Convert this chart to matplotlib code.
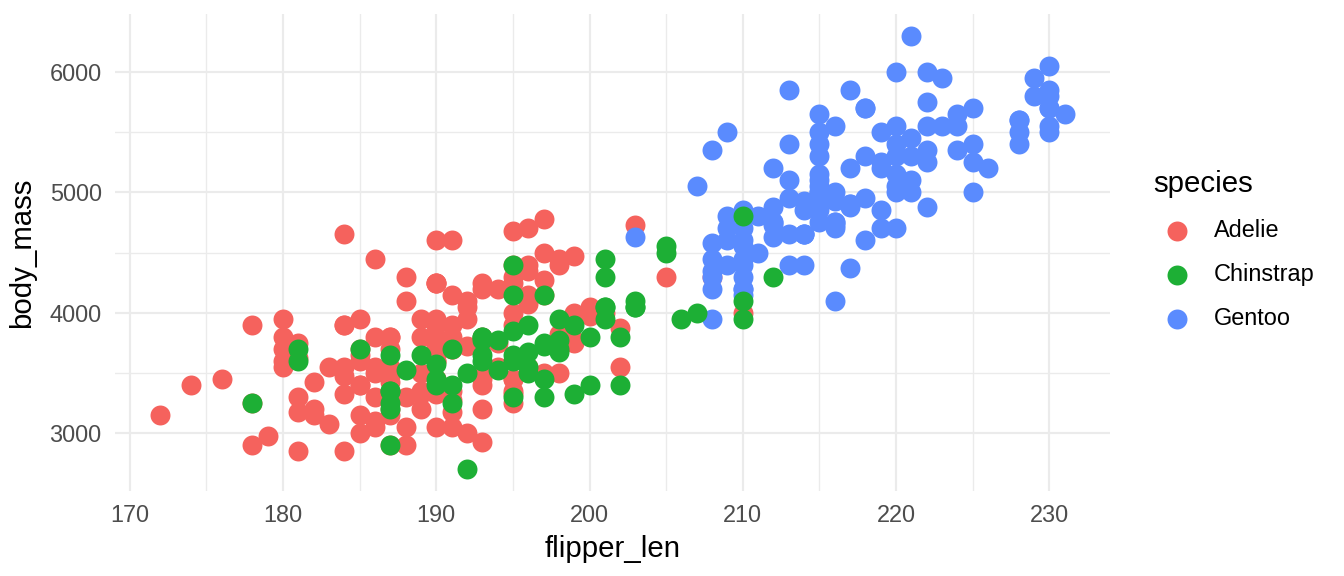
import matplotlib
matplotlib.use("Agg")
import matplotlib.pyplot as plt
from matplotlib.ticker import MultipleLocator

plt.rcParams['font.family'] = ['Liberation Sans', 'DejaVu Sans']

# flipper length (mm) and body mass (g), per species, in data order
adelie_flipper = [181, 186, 195, 193, 190, 181, 195, 193, 190, 186, 180, 182, 191, 198, 185, 195, 197, 184, 194,
                  174, 180, 189, 185, 180, 187, 183, 187, 172, 180,
                  178, 178, 188, 184, 195, 196, 190, 180, 181, 184, 182, 195, 186, 196, 185, 190, 182, 179, 190, 191,
                  186, 188, 190, 200, 187, 191, 186, 193, 181, 194, 185, 195, 185, 192, 184, 192, 195, 188,
                  190, 198, 190, 190, 196, 197, 190, 195, 191, 184, 187, 195, 189, 196, 187, 193,
                  191, 194, 190, 189, 189, 190, 202, 205, 185, 186, 187, 208, 190, 196, 178, 192,
                  192, 203, 183, 190, 193, 184, 199, 190, 181, 197, 198, 191, 193, 197, 191, 196,
                  188, 199, 189, 189, 187, 198, 176, 202, 186, 199, 191, 195, 191, 210, 190, 197,
                  193, 199, 187, 190, 191, 200, 185, 193, 193, 187, 188, 190, 192, 185, 190, 184, 195, 193, 187, 201]
adelie_mass = [3750, 3800, 3250, 3450, 3650, 3625, 4675, 3475, 4250, 3300, 3700, 3200, 3800, 4400, 3700, 3450, 4500, 3325, 4200,
               3400, 3600, 3800, 3950, 3800, 3800, 3550, 3200, 3150, 3950,
               3250, 3900, 3300, 3900, 3325, 4150, 3950, 3550, 3300, 4650, 3150, 3900, 3100, 4400, 3000, 4600, 3425, 2975, 3450, 4150,
               3500, 4300, 3450, 4050, 2900, 3700, 3550, 3800, 2850, 3750, 3150, 4400, 3600, 4050, 2850, 3950, 3350, 4100,
               3050, 4450, 3600, 3900, 3550, 4150, 3700, 4250, 3700, 3900, 3550, 4000, 3200, 4700, 3800, 4200,
               3350, 3550, 3800, 3500, 3950, 3600, 3550, 4300, 3400, 4450, 3300, 4300, 3700, 4350, 2900, 4100,
               3725, 4725, 3075, 4250, 2925, 3550, 3750, 3900, 3175, 4775, 3825, 4600, 3200, 4275, 3900, 4075,
               2900, 3775, 3350, 3325, 3150, 3500, 3450, 3875, 3050, 4000, 3275, 4300, 3050, 4000, 3325, 3500,
               3500, 4475, 3425, 3900, 3175, 3975, 3400, 4250, 3400, 3475, 3050, 3725, 3000, 3650, 4250, 3475, 3450, 3750, 3700, 4000]

gentoo_flipper = [211, 230, 210, 218, 215, 210, 211, 219, 209, 215, 214, 216, 214, 213, 210, 217, 210, 221, 209, 222,
                  218, 215, 213, 215, 215, 215, 216, 215, 210, 220, 222, 209, 207, 230,
                  220, 220, 213, 219, 208, 208, 208, 225, 210, 216, 222, 217, 210, 225, 213, 215, 210, 220, 210, 225,
                  217, 220, 208, 220, 208, 224, 208, 221, 214, 231, 219, 230, 214, 229, 220, 223, 216, 221, 221, 217,
                  216, 230, 209, 220, 215, 223,
                  212, 221, 212, 224, 212, 228, 218, 218, 212, 230, 218, 228, 212, 224, 214, 226, 216, 222, 203, 225,
                  219, 228, 215, 228, 216, 215, 210, 219, 208, 209, 216, 229, 213, 230, 217, 230, 217, 222, 214,
                  215, 222, 212, 213]
gentoo_mass = [4500, 5700, 4450, 5700, 5400, 4550, 4800, 5200, 4400, 5150, 4650, 5550, 4650, 5850, 4200, 5850, 4150, 6300, 4800, 5350,
               5700, 5000, 4400, 5050, 5000, 5100, 4100, 5650, 4600, 5550, 5250, 4700, 5050, 6050,
               5150, 5400, 4950, 5250, 4350, 5350, 3950, 5700, 4300, 4750, 5550, 4900, 4200, 5400, 5100, 5300, 4850, 5300, 4400, 5000,
               4900, 5050, 4300, 5000, 4450, 5550, 4200, 5300, 4400, 5650, 4700, 5700, 4650, 5800, 4700, 5550, 4750, 5000, 5100, 5200,
               4700, 5800, 4600, 6000, 4750, 5950,
               4625, 5450, 4725, 5350, 4750, 5600, 4600, 5300, 4875, 5550, 4950, 5400, 4750, 5650, 4850, 5200, 4925, 4875, 4625, 5250,
               4850, 5600, 4975, 5500, 4725, 5500, 4700, 5500, 4575, 5500, 5000, 5950, 4650, 5500, 4375, 5850, 4875, 6000, 4925,
               4850, 5750, 5200, 5400]

chinstrap_flipper = [192, 196, 193, 188, 197, 198, 178, 197, 195, 198, 193, 194, 185, 201, 190, 201, 197, 181, 190, 195,
                     181, 191, 187, 193, 195, 197,
                     200, 200, 191, 205, 187, 201, 187, 203, 195, 199, 195, 210, 192, 205, 210, 187, 196, 196, 196, 201,
                     190, 212, 187, 198, 199, 201, 193, 203, 187, 197, 191, 203, 202, 194, 206, 189, 195, 207, 202, 193,
                     210, 198]
chinstrap_mass = [3500, 3900, 3650, 3525, 3725, 3950, 3250, 3750, 4150, 3700, 3800, 3775, 3700, 4050, 3575, 4050, 3300, 3700, 3450, 4400,
                  3600, 3400, 2900, 3800, 3300, 4150,
                  3400, 3800, 3700, 4550, 3200, 4300, 3350, 4100, 3600, 3900, 3850, 4800, 2700, 4500, 3950, 3650, 3550, 3500, 3675, 4450,
                  3400, 4300, 3250, 3675, 3325, 3950, 3600, 4050, 3350, 3450, 3250, 4050, 3800, 3525, 3950, 3650, 3650, 4000, 3400, 3775,
                  4100, 3775]

# same order as the R data frame: Adelie, Gentoo, Chinstrap
species = ["Adelie", "Gentoo", "Chinstrap"]
flippers = [adelie_flipper, gentoo_flipper, chinstrap_flipper]
masses = [adelie_mass, gentoo_mass, chinstrap_mass]
colors = {"Adelie": "#F5625D", "Chinstrap": "#1DAF35", "Gentoo": "#5A8BFE"}

fig = plt.figure(figsize=(7, 3), dpi=192)
ax = fig.add_axes([115 / 1344, 1 - 491 / 576, (1110 - 115) / 1344, (491 - 14) / 576])

handles = {}
for sp, fx, my in zip(species, flippers, masses):
    handles[sp] = ax.scatter(fx, my, s=56, color=colors[sp], linewidths=0, zorder=3, label=sp)

ax.set_xlim(169.05, 233.95)
ax.set_ylim(2520, 6480)
ax.xaxis.set_major_locator(MultipleLocator(10))
ax.xaxis.set_minor_locator(MultipleLocator(5))
ax.yaxis.set_major_locator(MultipleLocator(1000))
ax.yaxis.set_minor_locator(MultipleLocator(500))
ax.grid(which="major", color="#EBEBEB", linewidth=0.8, zorder=0)
ax.grid(which="minor", color="#EBEBEB", linewidth=0.5, zorder=0)
ax.set_axisbelow(True)
for s in ax.spines.values():
    s.set_visible(False)
ax.tick_params(which="both", length=0, labelsize=8.8, labelcolor="#4D4D4D", pad=5)

ax.set_xlabel("flipper_len", fontsize=11, labelpad=3)
ax.set_ylabel("body_mass", fontsize=11, labelpad=5)

order = ["Adelie", "Chinstrap", "Gentoo"]
leg = ax.legend([handles[k] for k in order], order, title="species", loc="center left",
                bbox_to_anchor=(1.034, 0.505), frameon=False, fontsize=8.8, title_fontsize=11,
                markerscale=1.0, handletextpad=0.57, labelspacing=0.9, borderaxespad=0)
leg._legend_box.align = "left"

fig.savefig("out.png", dpi=192)
